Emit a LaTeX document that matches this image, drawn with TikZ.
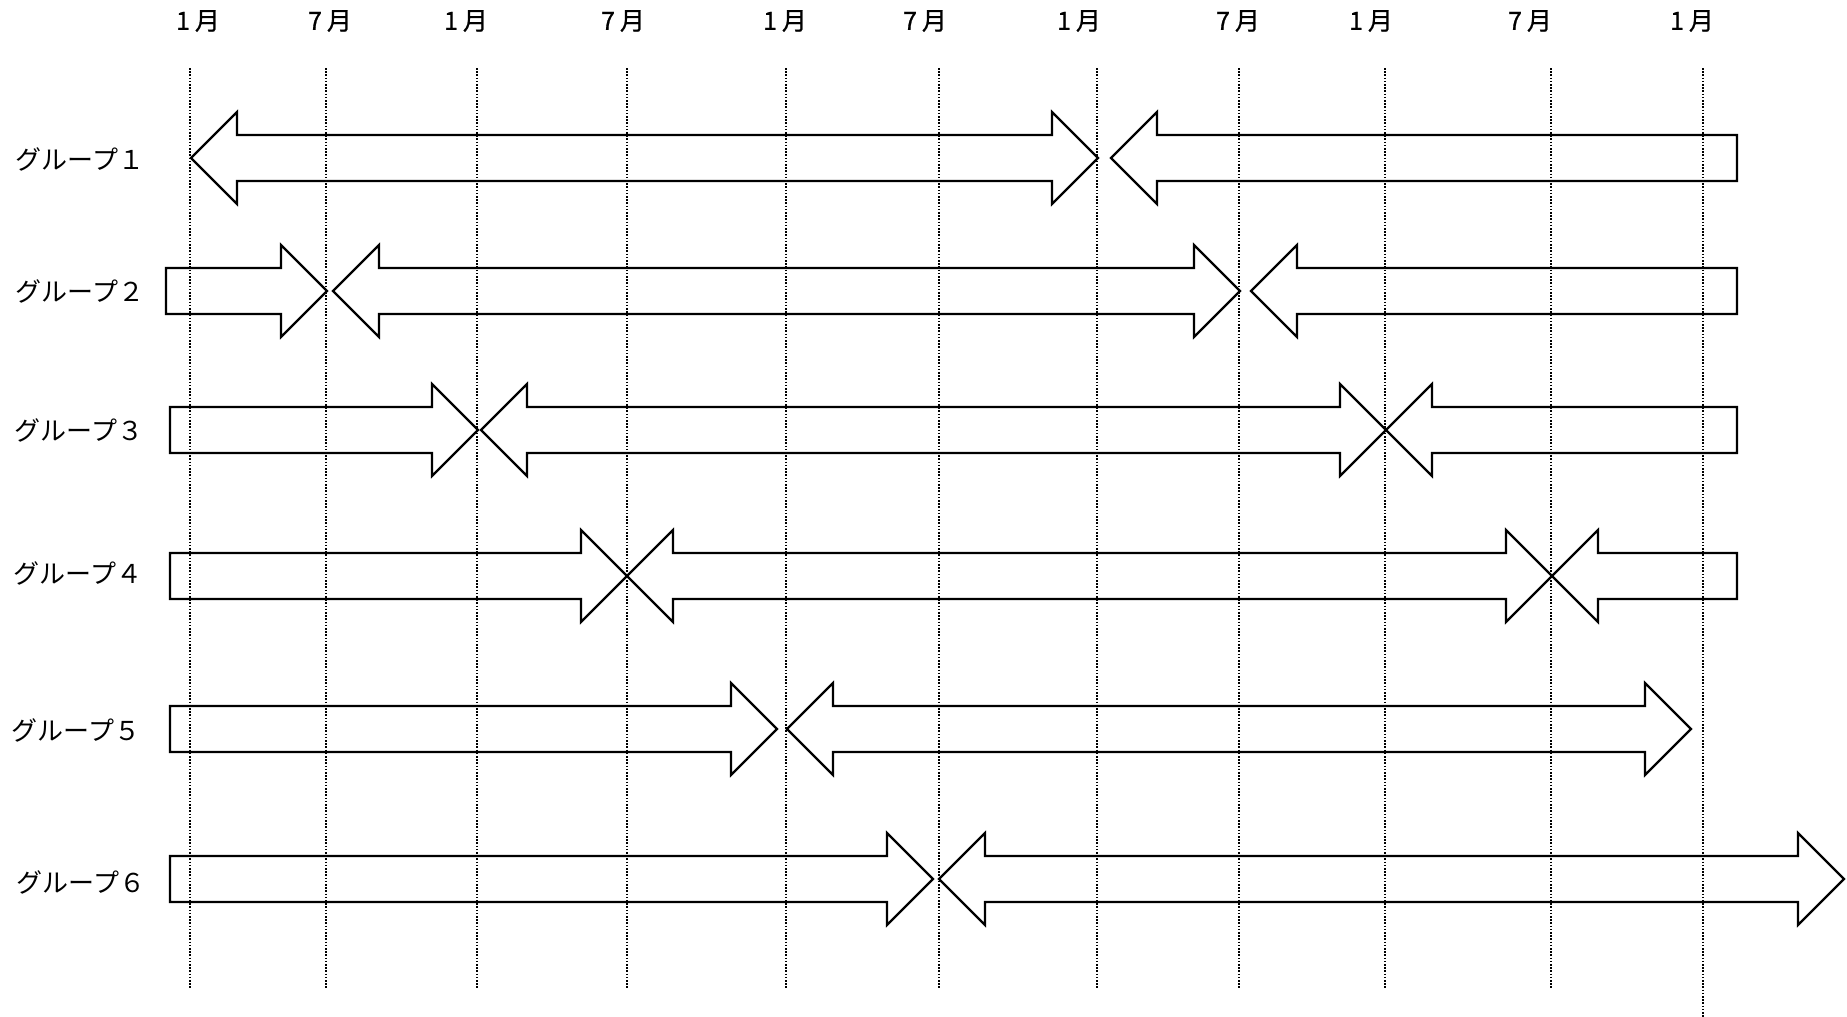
\documentclass[tikz,border=0pt]{standalone}
\usepackage{fontspec}
\newfontfamily\jpfont{Noto Sans CJK JP}
\newfontfamily\jpmonth[FakeBold=0.8]{Noto Sans CJK JP}
\newcommand\hl{46}
\newcommand\hh{46}
\newcommand\bh{23}
% double-headed arrow: left tip x, right tip x, centre y
\newcommand\arrLR[3]{%
  \draw[arrowshape] ({#1},{#3}) -- ({#1+\hl},{#3-\hh}) -- ({#1+\hl},{#3-\bh}) -- ({#2-\hl},{#3-\bh}) -- ({#2-\hl},{#3-\hh}) -- ({#2},{#3}) -- ({#2-\hl},{#3+\hh}) -- ({#2-\hl},{#3+\bh}) -- ({#1+\hl},{#3+\bh}) -- ({#1+\hl},{#3+\hh}) -- cycle;}
% right-pointing arrow: flat left end x, tip x, centre y
\newcommand\arrR[3]{%
  \draw[arrowshape] ({#1},{#3-\bh}) -- ({#2-\hl},{#3-\bh}) -- ({#2-\hl},{#3-\hh}) -- ({#2},{#3}) -- ({#2-\hl},{#3+\hh}) -- ({#2-\hl},{#3+\bh}) -- ({#1},{#3+\bh}) -- cycle;}
% left-pointing arrow: tip x, flat right end x, centre y
\newcommand\arrL[3]{%
  \draw[arrowshape] ({#1},{#3}) -- ({#1+\hl},{#3-\hh}) -- ({#1+\hl},{#3-\bh}) -- ({#2},{#3-\bh}) -- ({#2},{#3+\bh}) -- ({#1+\hl},{#3+\bh}) -- ({#1+\hl},{#3+\hh}) -- cycle;}
\tikzset{
  arrowshape/.style={draw=black, line width=2.2pt, line join=miter, miter limit=10},
  gridline/.style={draw=black, line width=1.3pt, dash pattern=on 1.6pt off 1.6pt},
  monthlabel/.style={inner sep=0pt, font=\jpmonth\fontsize{25pt}{25pt}\selectfont},
  grouplabel/.style={inner sep=0pt, font=\jpfont\fontsize{26pt}{26pt}\selectfont},
}
\begin{document}
\begin{tikzpicture}[x=1pt, y=-1pt]
\useasboundingbox[fill=white] (0,0) rectangle (1847,1017);
% vertical dotted lines
\foreach \xx in {190,326,477,627,786,939,1097,1239,1385,1551}{
  \draw[gridline] (\xx,68) -- (\xx,989);
}
\draw[gridline] (1703,68) -- (1703,1017);
% month labels
\node[monthlabel] (m1) at (198,21) {1\hspace{0.2em}月};
\node[monthlabel] (m2) at (330,21) {7\hspace{0.2em}月};
\node[monthlabel] (m3) at (466,21) {1\hspace{0.2em}月};
\node[monthlabel] (m4) at (623,21) {7\hspace{0.2em}月};
\node[monthlabel] (m5) at (785,21) {1\hspace{0.2em}月};
\node[monthlabel] (m6) at (925,21) {7\hspace{0.2em}月};
\node[monthlabel] (m7) at (1079,21) {1\hspace{0.2em}月};
\node[monthlabel] (m8) at (1238,21) {7\hspace{0.2em}月};
\node[monthlabel] (m9) at (1371,21) {1\hspace{0.2em}月};
\node[monthlabel] (m10) at (1530,21) {7\hspace{0.2em}月};
\node[monthlabel] (m11) at (1692,21) {1\hspace{0.2em}月};
% group labels
\node[grouplabel] (g1) at (80,159) {グループ１};
\node[grouplabel] (g2) at (80,291) {グループ２};
\node[grouplabel] (g3) at (79,430) {グループ３};
\node[grouplabel] (g4) at (78,573) {グループ４};
\node[grouplabel] (g5) at (76,730) {グループ５};
\node[grouplabel] (g6) at (81,882) {グループ６};
% row 1
\arrLR{191}{1098}{158}
\arrL{1111}{1737}{158}
% row 2
\arrR{166}{327}{291}
\arrLR{333}{1240}{291}
\arrL{1251}{1737}{291}
% row 3
\arrR{170}{478}{430}
\arrLR{481}{1386}{430}
\arrL{1386}{1737}{430}
% row 4
\arrR{170}{627}{576}
\arrLR{627}{1552}{576}
\arrL{1552}{1737}{576}
% row 5
\arrR{170}{777}{729}
\arrLR{787}{1691}{729}
% row 6
\arrR{170}{933}{879}
\arrLR{939}{1844}{879}
\end{tikzpicture}
\end{document}
